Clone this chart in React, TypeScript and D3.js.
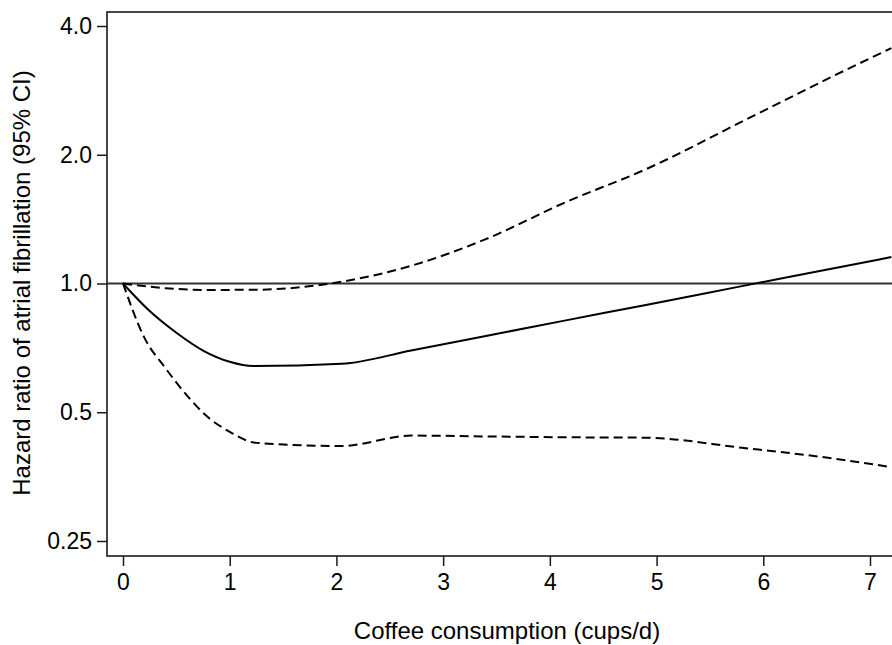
import React, { useRef, useEffect } from "react";
import { select, axisBottom, axisLeft, scaleLinear, scaleLog, line, curveMonotoneX } from "d3";

// cups/d and hazard ratios
const hrCups = [0, 0.25, 0.5, 0.75, 1.0, 1.22, 2.05, 2.7, 3.4, 4.15, 4.9, 5.8, 6.65, 7.2];
const hazardRatio = [1, 0.862, 0.767, 0.697, 0.656, 0.641, 0.649, 0.697, 0.754, 0.82, 0.891, 0.986, 1.084, 1.153];

const upperCups = [0, 0.4, 0.8, 1.25, 2.05, 2.7, 3.4, 4.15, 4.9, 5.8, 6.65, 7.2];
const upperCI = [1, 0.975, 0.966, 0.967, 1.01, 1.1, 1.27, 1.55, 1.85, 2.39, 3.05, 3.55];

const lowerCups = [0, 0.2, 0.4, 0.6, 0.8, 1.0, 1.25, 2.05, 2.7, 3.4, 4.15, 4.9, 5.8, 6.65, 7.2];
const lowerCI = [1, 0.747, 0.633, 0.547, 0.486, 0.45, 0.424, 0.417, 0.441, 0.439, 0.437, 0.436, 0.413, 0.39, 0.372];

const xTicks = [0, 1, 2, 3, 4, 5, 6, 7];
const yTicks = [0.25, 0.5, 1, 2, 4];
const yTickLabels = ["0.25", "0.5", "1.0", "2.0", "4.0"];

const width = 892;
const height = 645;
const frame = { left: 107, top: 12, bottom: 556 };
const font = "'Liberation Sans', Arial, sans-serif";
const tickFontSize = 23;
const titleFontSize = 24;

export default function App() {
  const svgRef = useRef<SVGSVGElement>(null);

  useEffect(() => {
    const svg = select(svgRef.current);
    svg.selectAll("*").remove();

    const xScale = scaleLinear().domain([0, 7]).range([123, 870]);
    const yScale = scaleLog().base(2).domain([0.25, 4]).range([541, 26]);

    // plot frame
    svg
      .append("rect")
      .attr("x", frame.left)
      .attr("y", frame.top)
      .attr("width", width)
      .attr("height", frame.bottom - frame.top)
      .attr("fill", "none")
      .attr("stroke", "#1a1a1a")
      .attr("stroke-width", 1.6);

    // y axis
    const yAxis = axisLeft(yScale)
      .tickValues(yTicks)
      .tickFormat((d, i) => yTickLabels[i])
      .tickSize(10)
      .tickPadding(5)
      .tickSizeOuter(0);
    const gy = svg.append("g").attr("transform", `translate(${frame.left},0)`).call(yAxis);
    gy.select(".domain").remove();
    gy.selectAll("line").attr("stroke", "#1a1a1a").attr("stroke-width", 1.5);
    gy.selectAll("text").attr("font-family", font).attr("font-size", tickFontSize).attr("fill", "#000");

    // x axis
    const xAxis = axisBottom(xScale)
      .tickValues(xTicks)
      .tickFormat((d) => String(d))
      .tickSize(10)
      .tickPadding(8)
      .tickSizeOuter(0);
    const gx = svg.append("g").attr("transform", `translate(0,${frame.bottom})`).call(xAxis);
    gx.select(".domain").remove();
    gx.selectAll("line").attr("stroke", "#1a1a1a").attr("stroke-width", 1.5);
    gx.selectAll("text").attr("font-family", font).attr("font-size", tickFontSize).attr("fill", "#000");

    // reference line at HR = 1
    svg
      .append("line")
      .attr("x1", frame.left)
      .attr("x2", width)
      .attr("y1", yScale(1))
      .attr("y2", yScale(1))
      .attr("stroke", "#333")
      .attr("stroke-width", 1.8);

    const series = [
      { xs: upperCups, values: upperCI, dash: "9,5" },
      { xs: lowerCups, values: lowerCI, dash: "9,5" },
      { xs: hrCups, values: hazardRatio, dash: null },
    ];
    series.forEach((s) => {
      const curve = line<number>()
        .x((d, i) => xScale(s.xs[i]))
        .y((d) => yScale(d))
        .curve(curveMonotoneX);
      svg
        .append("path")
        .attr("d", curve(s.values))
        .attr("fill", "none")
        .attr("stroke", "#000")
        .attr("stroke-width", 2)
        .attr("stroke-dasharray", s.dash);
    });

    // axis titles
    svg
      .append("text")
      .attr("x", 507)
      .attr("y", 639)
      .attr("text-anchor", "middle")
      .attr("font-family", font)
      .attr("font-size", titleFontSize)
      .text("Coffee consumption (cups/d)");

    svg
      .append("text")
      .attr("transform", "translate(30,283) rotate(-90)")
      .attr("text-anchor", "middle")
      .attr("font-family", font)
      .attr("font-size", titleFontSize)
      .text("Hazard ratio of atrial fibrillation (95% CI)");
  }, []);

  return (
    <svg
      ref={svgRef}
      width={width}
      height={height}
      style={{ position: "absolute", left: 0, top: 0, background: "#fff" }}
    />
  );
}
